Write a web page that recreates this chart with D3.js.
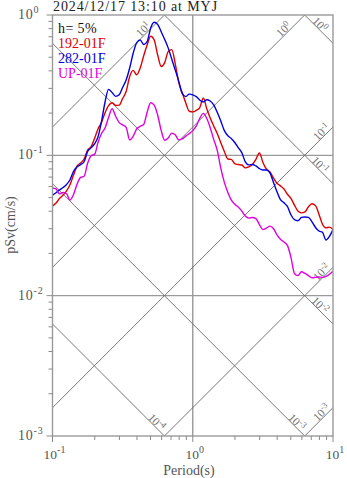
<!DOCTYPE html>
<html><head><meta charset="utf-8">
<script src="https://cdn.jsdelivr.net/npm/d3@7"></script>
<style>
body{margin:0;background:#fff;}
svg{display:block;}
text{font-family:"Liberation Serif","DejaVu Serif",serif;}
</style></head><body>
<svg id="chart" width="347" height="478"></svg>
<script>
// Pseudo-velocity response spectra (h = 5%), tripartite log-log plot
const periods = [0.1, 0.106, 0.112, 0.119, 0.126, 0.133, 0.141, 0.150, 0.158, 0.168,
  0.178, 0.188, 0.200, 0.211, 0.224, 0.237, 0.251, 0.266, 0.282, 0.299,
  0.316, 0.335, 0.355, 0.376, 0.398, 0.422, 0.447, 0.473, 0.501, 0.531,
  0.562, 0.596, 0.631, 0.668, 0.708, 0.750, 0.794, 0.841, 0.891, 0.944,
  1.0, 1.06, 1.12, 1.19, 1.26, 1.33, 1.41, 1.50, 1.58, 1.68,
  1.78, 1.88, 2.00, 2.11, 2.24, 2.37, 2.51, 2.66, 2.82, 2.99,
  3.16, 3.35, 3.55, 3.76, 3.98, 4.22, 4.47, 4.73, 5.01, 5.31,
  5.62, 5.96, 6.31, 6.68, 7.08, 7.50, 7.94, 8.41, 8.91, 9.44,
  10.0];

const sv192 = [0.0435, 0.0457, 0.0492, 0.0521, 0.0558, 0.0614, 0.0720, 0.0840, 0.0880, 0.0941,
  0.1091, 0.1150, 0.133, 0.154, 0.172, 0.201, 0.226, 0.237, 0.227, 0.228,
  0.254, 0.285, 0.365, 0.403, 0.375, 0.419, 0.513, 0.611, 0.705, 0.663,
  0.520, 0.430, 0.458, 0.548, 0.567, 0.451, 0.332, 0.279, 0.237, 0.206,
  0.204, 0.209, 0.218, 0.256, 0.214, 0.185, 0.162, 0.142, 0.124, 0.1065,
  0.0941, 0.0936, 0.087, 0.086, 0.0853, 0.0814, 0.0826, 0.0859, 0.0936, 0.104,
  0.0894, 0.0799, 0.0760, 0.0691, 0.0634, 0.0606, 0.0575, 0.0528, 0.0493, 0.0442,
  0.0401, 0.0389, 0.0395, 0.0430, 0.0452, 0.0438, 0.0381, 0.0323, 0.0304, 0.0308,
  0.0296];

const sv282 = [0.0521, 0.0541, 0.0566, 0.0590, 0.0620, 0.0667, 0.0766, 0.0830, 0.0856, 0.0900,
  0.1065, 0.113, 0.1211, 0.135, 0.176, 0.240, 0.295, 0.280, 0.263, 0.270,
  0.304, 0.344, 0.419, 0.534, 0.634, 0.663, 0.617, 0.647, 0.807, 0.887,
  0.857, 0.759, 0.670, 0.583, 0.486, 0.406, 0.338, 0.276, 0.262, 0.273,
  0.270, 0.262, 0.248, 0.240, 0.249, 0.244, 0.229, 0.201, 0.177, 0.150,
  0.138, 0.132, 0.123, 0.1135, 0.1042, 0.0898, 0.0855, 0.0861, 0.0840, 0.0803,
  0.0786, 0.0786, 0.0751, 0.0643, 0.0552, 0.0484, 0.0459, 0.0433, 0.0377, 0.0348,
  0.0342, 0.0361, 0.0364, 0.0361, 0.0336, 0.0306, 0.0289, 0.0283, 0.0249, 0.0265,
  0.0296];

const svUP = [0.0585, 0.0576, 0.0532, 0.0545, 0.0532, 0.0480, 0.0524, 0.0627, 0.0694, 0.0709,
  0.0877, 0.0990, 0.102, 0.1234, 0.1436, 0.1565, 0.186, 0.215, 0.190, 0.171,
  0.165, 0.158, 0.129, 0.137, 0.154, 0.161, 0.166, 0.203, 0.237, 0.228,
  0.194, 0.150, 0.128, 0.133, 0.144, 0.140, 0.129, 0.131, 0.137, 0.143,
  0.150, 0.162, 0.183, 0.199, 0.183, 0.158, 0.130, 0.107, 0.082, 0.0642,
  0.0544, 0.0482, 0.0447, 0.0428, 0.0400, 0.0369, 0.0357, 0.0361, 0.0354, 0.0321,
  0.0296, 0.0303, 0.0313, 0.0301, 0.0272, 0.0252, 0.0241, 0.0228, 0.0188, 0.0144,
  0.0139, 0.0148, 0.0144, 0.0139, 0.0134, 0.0135, 0.0136, 0.0135, 0.0137, 0.0142,
  0.0149];

const seriesNames = ["192-01F", "282-01F", "UP-01F"];
const seriesColors = ["#e00000", "#0000e0", "#e000e0"];
const accelLevels = [1e-3, 1e-2, 1e-1, 1, 10];   // pSa (gal) guide lines
const dispLevels = [1e-4, 1e-3, 1e-2, 1e-1, 1];   // Sd (cm) guide lines
const xTickExps = ["-1", "0", "1"];
const yTickExps = ["0", "-1", "-2", "-3"];
const titleText = "2024/12/17 13:10 at MYJ";
const dampingText = "h= 5%";

const m = {left: 52.5, right: 333, top: 15, bottom: 436};
const x = d3.scaleLog().domain([0.1, 10]).range([m.left, m.right]);
const y = d3.scaleLog().domain([0.001, 1]).range([m.bottom, m.top]);
const svg = d3.select("#chart");
const TWO_PI = 2 * Math.PI;

function pow10(sel, exp, size, supSize, rise) {
  sel.append("tspan").attr("font-size", size).text("10");
  sel.append("tspan").attr("font-size", supSize).attr("dy", -rise).text(exp);
}

svg.append("defs").append("clipPath").attr("id", "plotClip")
  .append("rect").attr("x", m.left).attr("y", m.top)
  .attr("width", m.right - m.left).attr("height", m.bottom - m.top);

// major grid lines
const grid = svg.append("g").attr("stroke", "#9a9a9a").attr("stroke-width", 1.4);
[0.1, 0.01].forEach(v => grid.append("line")
  .attr("x1", m.left).attr("x2", m.right).attr("y1", y(v)).attr("y2", y(v)));
grid.append("line").attr("x1", x(1)).attr("x2", x(1)).attr("y1", m.top).attr("y2", m.bottom);

// tripartite guide lines
const diag = svg.append("g").attr("clip-path", "url(#plotClip)")
  .attr("stroke", "#6a6a6a").attr("stroke-width", 0.9);
accelLevels.forEach(a => {
  diag.append("line").attr("x1", x(0.01)).attr("y1", y(a * 0.01 / TWO_PI))
    .attr("x2", x(100)).attr("y2", y(a * 100 / TWO_PI));
});
dispLevels.forEach(d => {
  diag.append("line").attr("x1", x(0.01)).attr("y1", y(TWO_PI * d / 0.01))
    .attr("x2", x(100)).attr("y2", y(TWO_PI * d / 100));
});

// guide line labels
const dlab = svg.append("g").attr("fill", "#707070");
const S2 = Math.SQRT1_2;
accelLevels.forEach(a => {
  const tTop = TWO_PI / a;
  const tEnd = Math.min(tTop, 10);
  const ex = x(tEnd), ey = y(a * tEnd / TWO_PI);
  const back = tTop < 10 ? 25 : 11.5, perp = 6.5;
  const cx = ex - back * S2 - perp * S2, cy = ey + back * S2 - perp * S2;
  const t = dlab.append("text").attr("text-anchor", "middle")
    .attr("transform", `translate(${cx},${cy}) rotate(-45)`).attr("dy", "0.35em");
  pow10(t, String(Math.round(Math.log10(a))), 11.5, 8.5, 4);
});
dispLevels.forEach(d => {
  const tBot = TWO_PI * d / 0.001;
  const tEnd = Math.min(tBot, 10);
  const ex = x(tEnd), ey = y(TWO_PI * d / tEnd);
  const back = tBot < 10 ? 15.5 : 22.5, perp = 6;
  const cx = ex - back * S2 + perp * S2, cy = ey - back * S2 - perp * S2;
  const t = dlab.append("text").attr("text-anchor", "middle")
    .attr("transform", `translate(${cx},${cy}) rotate(45)`).attr("dy", "0.35em");
  pow10(t, String(Math.round(Math.log10(d))), 11.5, 8.5, 4);
});

// spectra
const line = d3.line().x((d, i) => x(periods[i])).y(d => y(d)).curve(d3.curveMonotoneX);
[sv192, sv282, svUP].forEach((s, i) => {
  svg.append("path").datum(s).attr("d", line).attr("fill", "none")
    .attr("stroke", seriesColors[i]).attr("stroke-width", 1.4)
    .attr("clip-path", "url(#plotClip)");
});

// frame
svg.append("rect").attr("x", m.left).attr("y", m.top)
  .attr("width", m.right - m.left).attr("height", m.bottom - m.top)
  .attr("fill", "none").attr("stroke", "#9a9a9a").attr("stroke-width", 1.4);

// ticks
const ticks = svg.append("g").attr("stroke", "#8a8a8a").attr("stroke-width", 1);
for (let e = -3; e <= 0; e++) {
  for (let k = 1; k <= 9; k++) {
    const v = k * Math.pow(10, e);
    if (v > 1.0001) break;
    const len = k === 1 ? 6 : 4;
    ticks.append("line").attr("x1", m.left - len).attr("x2", m.left).attr("y1", y(v)).attr("y2", y(v));
  }
}
for (let e = -1; e <= 1; e++) {
  for (let k = 1; k <= 9; k++) {
    const v = k * Math.pow(10, e);
    if (v > 10.0001) break;
    const len = k === 1 ? 6 : 4;
    ticks.append("line").attr("y1", m.bottom).attr("y2", m.bottom + len).attr("x1", x(v)).attr("x2", x(v));
  }
}

// tick labels
const tl = svg.append("g").attr("fill", "#555");
yTickExps.forEach(e => {
  const t = tl.append("text").attr("x", 18).attr("y", y(Math.pow(10, +e)) + 4)
    .attr("letter-spacing", 0.8);
  pow10(t, e, 14, 10, 6);
});
xTickExps.forEach(e => {
  const t = tl.append("text").attr("text-anchor", "middle")
    .attr("x", x(Math.pow(10, +e)) + 2).attr("y", 459);
  pow10(t, e, 13.5, 10, 6);
});

// axis titles
svg.append("text").attr("x", 189).attr("y", 474.5).attr("text-anchor", "middle")
  .attr("font-size", 14).attr("fill", "#555").text("Period(s)");
svg.append("text").attr("transform", "translate(15,225) rotate(-90)")
  .attr("text-anchor", "middle").attr("font-size", 14).attr("fill", "#555").text("pSv(cm/s)");

// title and legend
svg.append("text").attr("x", 53).attr("y", 11).attr("font-size", 14)
  .attr("letter-spacing", 0.9).attr("fill", "#222").text(titleText);
svg.append("text").attr("x", 58).attr("y", 33).attr("font-size", 14)
  .attr("letter-spacing", 0.4).attr("fill", "#111").text(dampingText);
seriesNames.forEach((n, i) => {
  svg.append("text").attr("x", 58).attr("y", 48 + i * 15).attr("font-size", 14)
    .attr("fill", seriesColors[i]).text(n);
});
</script>
</body></html>
